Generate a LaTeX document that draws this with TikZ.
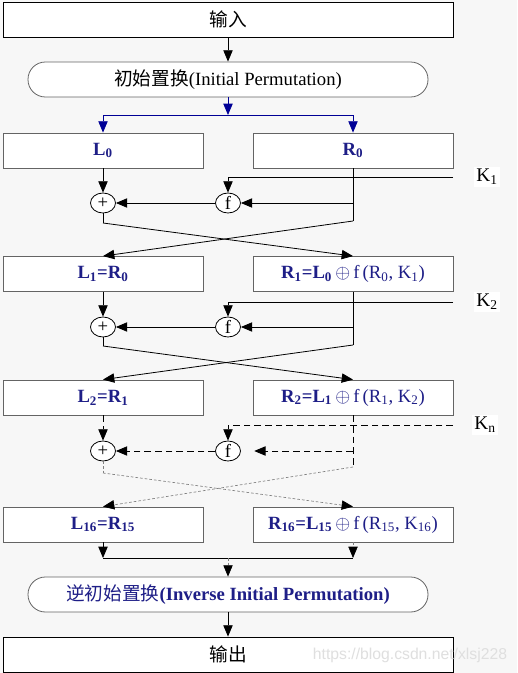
\documentclass[tikz,border=0pt]{standalone}
\usepackage{fontspec}
\setmainfont{Liberation Serif}
\setsansfont{Liberation Sans}
\newfontfamily\cjk{Noto Sans CJK SC}
\usetikzlibrary{arrows.meta,shapes.geometric}

\definecolor{desblue}{RGB}{30,30,135}
\definecolor{arrowblue}{RGB}{0,0,150}
\definecolor{bggray}{RGB}{247,247,247}
\definecolor{edgegray}{RGB}{100,100,100}

\newcommand{\roundf}[1]{$\oplus$\,\textnormal{f\,(#1)}}

\tikzset{
    box/.style={draw=edgegray, fill=white, line width=0.6pt, minimum width=150pt,
        minimum height=26.25pt, inner sep=0pt, font=\fontsize{14}{16}\selectfont},
    halfbox/.style={box, text=desblue, font=\bfseries\fontsize{14}{16}\selectfont},
    widebox/.style={box, draw=black, minimum width=337.5pt},
    permbox/.style={box, minimum width=300pt, rounded corners=13pt},
    xorop/.style={ellipse, draw=black, fill=white, line width=0.6pt, minimum width=18.75pt,
        minimum height=15pt, inner sep=0pt, font=\fontsize{14}{14}\selectfont},
    keylab/.style={fill=white, inner sep=2pt, font=\fontsize{14.5}{16}\selectfont},
    arr/.style={draw=black, line width=0.6pt, -{Triangle[length=8.5pt,width=7pt]}},
    bluearr/.style={arr, draw=arrowblue},
    dashline/.style={draw=black, line width=0.6pt, dash pattern=on 5pt off 3pt},
    dotline/.style={draw=gray, line width=0.5pt, dash pattern=on 2pt off 1.5pt},
    dotarr/.style={dotline, -{Triangle[length=8.5pt,width=7pt,color=black]}}
}

\begin{document}
\begin{tikzpicture}[x=0.75pt,y=-0.75pt]

% ===== 背景 =====
\fill[bggray] (0,0) rectangle (517,673);
\useasboundingbox (0,0) rectangle (517,673);

% ===== 输入与初始置换 =====
\node[widebox] (input) at (228,19.5) {\cjk 输入};
\node[permbox] (ip) at (228,79.5) {{\cjk 初始置换}(Initial Permutation)};
\draw[arr] (input) -- (ip);
\coordinate (split) at (228,115);
\draw[bluearr] (ip) -- (split);

% ===== 左右两半 =====
\foreach \n/\y/\ltext/\rtext in {
    0/150.5/{L\textsubscript{0}}/{R\textsubscript{0}},
    1/274/{L\textsubscript{1}=R\textsubscript{0}}/{R\textsubscript{1}=L\textsubscript{0}\,\roundf{R\textsubscript{0}, K\textsubscript{1}}},
    2/397.5/{L\textsubscript{2}=R\textsubscript{1}}/{R\textsubscript{2}=L\textsubscript{1}\,\roundf{R\textsubscript{1}, K\textsubscript{2}}},
    16/524.5/{L\textsubscript{16}=R\textsubscript{15}}/{R\textsubscript{16}=L\textsubscript{15}\,\roundf{R\textsubscript{15}, K\textsubscript{16}}}} {
    \node[halfbox] (L\n) at (103,\y) {\ltext};
    \node[halfbox] (R\n) at (353,\y) {\rtext};
}
\draw[bluearr] (split) -| (L0);
\draw[bluearr] (split) -| (R0);

% ===== 第1、2轮 =====
\foreach \p/\q/\i/\y/\ky/\rb/\ab in {0/1/1/203/177/221/223, 1/2/2/327/302/345/346} {
    \node[xorop] (add\i) at (103,\y) {+};
    \node[xorop] (f\i) at (228,\y) {f};
    \node[keylab] (K\i) at (487,\ky) {K\textsubscript{\i}};
    \coordinate (k\i) at (453,\ky);
    \coordinate (rm\i) at (353,\y);
    \coordinate (rb\i) at (353,\rb);
    \coordinate (ab\i) at (103,\ab);
    \draw[arr] (L\p) -- (add\i);
    \draw[arr] (k\i) -| (f\i);
    \draw[line width=0.6pt] (R\p) -- (rb\i);
    \draw[arr] (rm\i) -- (f\i);
    \draw[arr] (f\i) -- (add\i);
    \draw[line width=0.6pt] (add\i) -- (ab\i);
    \draw[arr] (ab\i) -- (R\q.north);
    \draw[arr] (rb\i) -- (L\q.north);
}

% ===== 第n轮（虚线） =====
\node[xorop] (add3) at (103,451) {+};
\node[xorop] (f3) at (228,451) {f};
\node[keylab] (Kn) at (485,425) {K\textsubscript{n}};
\coordinate (kn) at (453,425);
\coordinate (rm3) at (353,451);
\coordinate (rb3) at (353,467);
\coordinate (ab3) at (103,473);
\draw[arr,dashline] (L2) -- (add3);
\draw[arr,dashline] (kn) -| (f3);
\draw[dashline] (R2) -- (rb3);
\draw[arr,dashline,shorten >=10pt] (rm3) -- (f3);
\draw[arr,dashline] (f3) -- (add3);
\draw[dotline] (add3) -- (ab3);
\draw[dotarr] (ab3) -- (R16.north);
\draw[dotarr] (rb3) -- (L16.north);

% ===== 逆初始置换与输出 =====
\coordinate (j1) at (103,558);
\coordinate (j2) at (353,558);
\coordinate (jm) at (228,558);
\draw[arr] (L16) -- (j1);
\draw[dotarr] (R16) -- (j2);
\draw[line width=0.6pt] (j1) -- (j2);
\node[permbox, text=desblue, font=\fontsize{14}{16}\selectfont] (iip) at (228,594.5)
    {{\cjk 逆初始置换}\textbf{(Inverse Initial Permutation)}};
\draw[dotarr] (jm) -- (iip);
\node[widebox] (output) at (228,654.5) {\cjk 输出};
\draw[arr] (iip) -- (output);

% ===== 水印 =====
\node[text=gray!25, font=\sffamily\fontsize{11.8}{13}\selectfont] (mark) at (410,655)
    {https://blog.csdn.net/xlsj228};

\end{tikzpicture}
\end{document}
